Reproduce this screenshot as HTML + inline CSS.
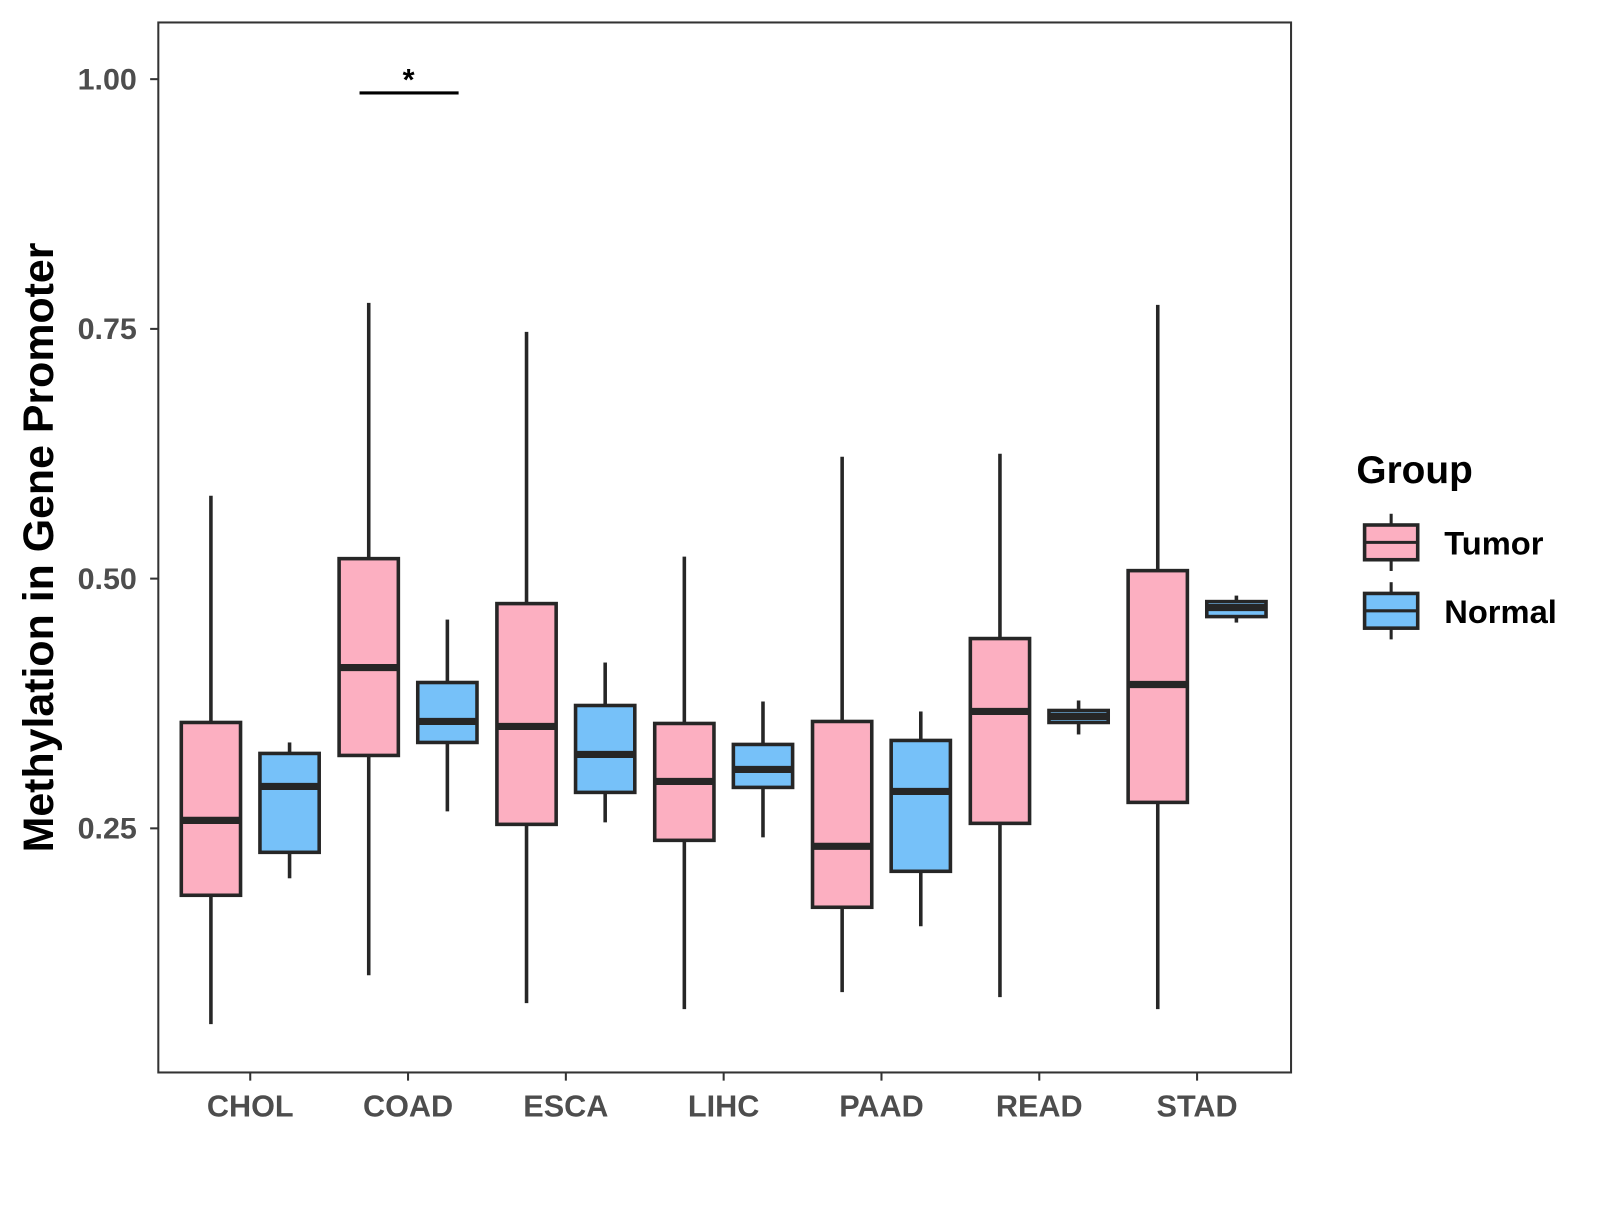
<!DOCTYPE html>
<html><head><meta charset="utf-8"><style>
body{margin:0;background:#fff}
svg text{font-family:"Liberation Sans",Arial,sans-serif;font-weight:bold}
</style></head><body>
<svg id="chart" width="1600" height="1200" xmlns="http://www.w3.org/2000/svg">
<rect width="1600" height="1200" fill="#fff"/>
<g id="plot" transform="scale(1.0214)"></g>
</svg>
<script>
const categories=["CHOL","COAD","ESCA","LIHC","PAAD","READ","STAD"];
const tumorLow=[0.054,0.103,0.075,0.069,0.086,0.081,0.069];
const tumorQ1=[0.183,0.323,0.254,0.238,0.171,0.255,0.276];
const tumorMed=[0.258,0.411,0.352,0.297,0.232,0.367,0.394];
const tumorQ3=[0.356,0.520,0.475,0.355,0.357,0.440,0.508];
const tumorHigh=[0.583,0.776,0.747,0.522,0.622,0.625,0.774];
const normalLow=[0.200,0.267,0.256,0.241,0.152,0.344,0.456];
const normalQ1=[0.226,0.336,0.286,0.291,0.207,0.356,0.462];
const normalMed=[0.292,0.357,0.324,0.309,0.287,0.362,0.471];
const normalQ3=[0.325,0.396,0.373,0.334,0.338,0.368,0.477];
const normalHigh=[0.336,0.459,0.416,0.377,0.367,0.378,0.483];
const yTicks=[0.25,0.50,0.75,1.00];
const yTickLabels=["0.25","0.50","0.75","1.00"];

const NS="http://www.w3.org/2000/svg";
const g=document.getElementById('plot');
const L=155,R=1264,T=22,B=1050;
function y(v){return 811-(v-0.25)*978;}
function x(i){return 245+i*154.5;}
function mk(tag,attrs,parent){const e=document.createElementNS(NS,tag);for(const k in attrs)e.setAttribute(k,attrs[k]);(parent||g).appendChild(e);return e;}

let frame=mk('rect',{x:L,y:T,width:R-L,height:B-T,fill:'none',stroke:'#333','stroke-width':2});



yTicks.forEach((v,i)=>{
  let t=mk('line',{x1:L-8,x2:L,y1:y(v),y2:y(v),stroke:'#333','stroke-width':2});
  
  
  let tx=mk('text',{x:L-21,y:y(v)+10,'text-anchor':'end','font-size':29,fill:'#4d4d4d','textLength':58,'lengthAdjust':'spacingAndGlyphs'});
  tx.textContent=yTickLabels[i];
  
  
});
categories.forEach((c,i)=>{
  let t=mk('line',{x1:x(i),x2:x(i),y1:B,y2:B+8,stroke:'#333','stroke-width':2});
  
  
  let tx=mk('text',{x:x(i),y:B+43,'text-anchor':'middle','font-size':30,fill:'#4d4d4d'});
  tx.textContent=c;
  
  
});
function box(cx,lo,q1,md,q3,hi,fill,name){
  const grp=mk('g',{});
  
  
  mk('line',{x1:cx,x2:cx,y1:y(hi),y2:y(q3),stroke:'#262626','stroke-width':3.5},grp);
  mk('line',{x1:cx,x2:cx,y1:y(q1),y2:y(lo),stroke:'#262626','stroke-width':3.5},grp);
  mk('rect',{x:cx-29,y:y(q3),width:58,height:y(q1)-y(q3),fill:fill,stroke:'#262626','stroke-width':3.5},grp);
  mk('line',{x1:cx-29,x2:cx+29,y1:y(md),y2:y(md),stroke:'#262626','stroke-width':7},grp);
}
categories.forEach((c,i)=>{
  box(x(i)-38.5,tumorLow[i],tumorQ1[i],tumorMed[i],tumorQ3[i],tumorHigh[i],'#fcafc1','tumor-box-'+c.toLowerCase());
  box(x(i)+38.5,normalLow[i],normalQ1[i],normalMed[i],normalQ3[i],normalHigh[i],'#76c1f9','normal-box-'+c.toLowerCase());
});
let sl=mk('line',{x1:352,x2:449,y1:91,y2:91,stroke:'#000','stroke-width':3});


let st=mk('text',{x:400,y:88,'text-anchor':'middle','font-size':30,fill:'#000'});
st.textContent='*';


let yt=mk('text',{x:0,y:0,transform:'translate(52,536) rotate(-90)','text-anchor':'middle','font-size':42,fill:'#000'});
yt.textContent='Methylation in Gene Promoter';


let lt=mk('text',{x:1328,y:473,'font-size':38,fill:'#000'});
lt.textContent='Group';


[['Tumor','#fcafc1',531],['Normal','#76c1f9',598]].forEach(([n,f,cy])=>{
  const lg=mk('g',{});
  
  
  mk('line',{x1:1362,x2:1362,y1:cy-28,y2:cy+28,stroke:'#262626','stroke-width':3},lg);
  mk('rect',{x:1336,y:cy-17,width:52,height:34,fill:f,stroke:'#262626','stroke-width':3.5},lg);
  mk('line',{x1:1336,x2:1388,y1:cy,y2:cy,stroke:'#262626','stroke-width':3},lg);
  const t=mk('text',{x:1414,y:cy+12,'font-size':32,fill:'#000'},lg);
  t.textContent=n;
});
</script>
</body></html>
